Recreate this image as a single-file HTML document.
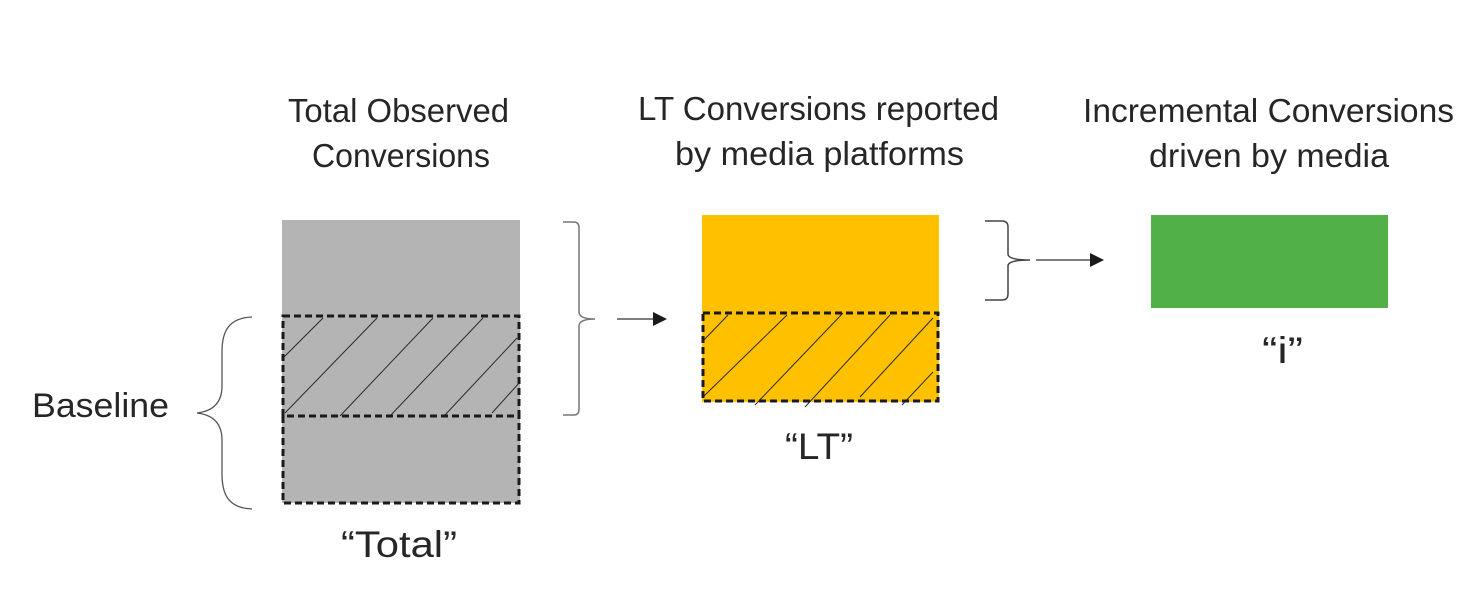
<!DOCTYPE html>
<html>
<head>
<meta charset="utf-8">
<style>
  html, body { margin: 0; padding: 0; background: #ffffff; }
  svg { display: block; }
  text { font-family: "Liberation Sans", "DejaVu Sans", sans-serif; fill: #262626; }
</style>
</head>
<body>
<svg width="1466" height="602" viewBox="0 0 1466 602" xmlns="http://www.w3.org/2000/svg">
  <rect x="0" y="0" width="1466" height="602" fill="#ffffff"/>

  <!-- Titles -->
  <text x="288" y="122" font-size="33" textLength="221" lengthAdjust="spacingAndGlyphs">Total Observed</text>
  <text x="312" y="167" font-size="33" textLength="178" lengthAdjust="spacingAndGlyphs">Conversions</text>

  <text x="638" y="120" font-size="33" textLength="361" lengthAdjust="spacingAndGlyphs">LT Conversions reported</text>
  <text x="675" y="165" font-size="33" textLength="289" lengthAdjust="spacingAndGlyphs">by media platforms</text>

  <text x="1083" y="122" font-size="33" textLength="371" lengthAdjust="spacingAndGlyphs">Incremental Conversions</text>
  <text x="1149" y="167" font-size="33" textLength="240" lengthAdjust="spacingAndGlyphs">driven by media</text>

  <!-- Gray block -->
  <rect x="282" y="220" width="238" height="283" fill="#b4b4b4"/>
  <g stroke="#2a2a2a" stroke-width="1" fill="none">
    <line x1="283" y1="358" x2="323" y2="318"/>
    <line x1="285" y1="413" x2="377" y2="318"/>
    <line x1="340" y1="416" x2="433" y2="318"/>
    <line x1="390" y1="416" x2="483" y2="318"/>
    <line x1="445" y1="415" x2="517" y2="338"/>
    <line x1="492" y1="413" x2="520" y2="382"/>
  </g>
  <g stroke="#1a1a1a" stroke-width="3" fill="none" stroke-dasharray="7 4">
    <rect x="283" y="316" width="236" height="100"/>
    <path d="M283 416 L283 503 L519 503 L519 416"/>
  </g>

  <!-- Left brace (Baseline) -->
  <path d="M252 317 C228 318 222 332 222 352 L222 386 C222 402 214 411 197 413 C214 415 222 424 222 440 L222 474 C222 494 228 508 252 509"
        fill="none" stroke="#555" stroke-width="1.3"/>
  <text x="32" y="417" font-size="34" textLength="137" lengthAdjust="spacingAndGlyphs">Baseline</text>

  <text x="341" y="557" font-size="37" textLength="116" lengthAdjust="spacingAndGlyphs">“Total”</text>

  <!-- Right brace 1 -->
  <path d="M563 222 L574 222 Q579 222 579 228 L579 312 Q579 319 595 319 Q579 319 579 326 L579 409 Q579 415 574 415 L563 415"
        fill="none" stroke="#777" stroke-width="1.5"/>
  <!-- Arrow 1 -->
  <line x1="617" y1="319" x2="654" y2="319" stroke="#555" stroke-width="1.5"/>
  <polygon points="653,312 667,319 653,326" fill="#1a1a1a"/>

  <!-- Yellow block -->
  <rect x="702" y="215" width="237" height="187" fill="#ffc000"/>
  <g stroke="#2a2a2a" stroke-width="1" fill="none">
    <line x1="702" y1="342" x2="728" y2="315"/>
    <line x1="703" y1="397" x2="787" y2="315"/>
    <line x1="755" y1="405" x2="843" y2="313"/>
    <line x1="805" y1="407" x2="890" y2="315"/>
    <line x1="860" y1="397" x2="933" y2="318"/>
    <line x1="902" y1="405" x2="933" y2="372"/>
  </g>
  <rect x="703" y="313" width="235" height="88" fill="none" stroke="#1a1a1a" stroke-width="3" stroke-dasharray="7 4"/>

  <text x="785" y="459" font-size="37" textLength="68" lengthAdjust="spacingAndGlyphs">“LT”</text>

  <!-- Right brace 2 -->
  <path d="M985 221 L1002 221 Q1008 221 1008 227 L1008 254 Q1008 260 1030 260 Q1008 260 1008 266 L1008 294 Q1008 300 1002 300 L985 300"
        fill="none" stroke="#444" stroke-width="1.5"/>
  <!-- Arrow 2 -->
  <line x1="1036" y1="260" x2="1091" y2="260" stroke="#555" stroke-width="1.5"/>
  <polygon points="1090,253 1104,260 1090,267" fill="#1a1a1a"/>

  <!-- Green block -->
  <rect x="1151" y="215" width="237" height="93" fill="#51b148"/>

  <text x="1262" y="363" font-size="37" textLength="41" lengthAdjust="spacingAndGlyphs">“i”</text>
</svg>
</body>
</html>
